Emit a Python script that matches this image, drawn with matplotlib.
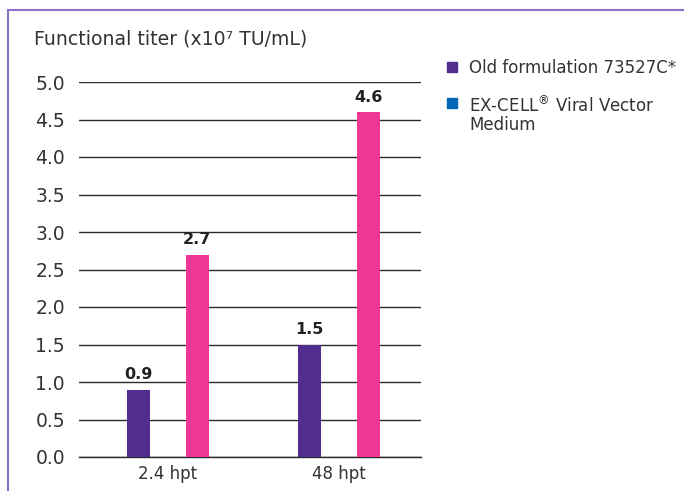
import numpy as np
import matplotlib.pyplot as plt
from matplotlib.patches import Rectangle
from matplotlib.lines import Line2D

plt.rcParams["font.family"] = ["DejaVu Sans"]

# Data
categories = ["2.4 hpt", "48 hpt"]
old_formulation = [0.9, 1.5]
excell_medium = [2.7, 4.6]
yticks = [0.0, 0.5, 1.0, 1.5, 2.0, 2.5, 3.0, 3.5, 4.0, 4.5, 5.0]
legend_labels = ["Old formulation 73527C*", "EX-CELL$^{®}$ Viral Vector\nMedium"]

purple = "#512D8F"
pink = "#EE3695"
legend_blue = "#0068B4"
border = "#8C70C4"
text_color = "#333333"

W, H = 684, 491
fig = plt.figure(figsize=(W / 100, H / 100), dpi=100)

# axes placed in pixel terms
left, right, bottom, top = 79, 421, 457, 82
ax = fig.add_axes([left / W, 1 - bottom / H, (right - left) / W, (bottom - top) / H])

x = np.arange(len(categories))
width = 0.135
offset = 0.172
bars1 = ax.bar(x - offset, old_formulation, width, color=purple, zorder=3)
bars2 = ax.bar(x + offset, excell_medium, width, color=pink, zorder=3)

for bars in (bars1, bars2):
    for b in bars:
        ax.text(b.get_x() + b.get_width() / 2, b.get_height() + 0.1,
                f"{b.get_height():.1f}", ha="center", va="bottom",
                fontsize=11.5, fontweight="bold", color="#222222")

ax.set_xlim(-0.52, 1.48)
ax.set_ylim(0, 5.0)
ax.set_yticks(yticks)
ax.set_yticklabels([f"{v:.1f}" for v in yticks])
ax.set_xticks(x)
ax.set_xticklabels(categories)
ax.tick_params(axis="both", length=0, labelsize=13.5, labelcolor=text_color)
ax.tick_params(axis="y", pad=10)
ax.tick_params(axis="x", pad=6, labelsize=12)
ax.yaxis.grid(True, color="#2a2a2a", linewidth=1.0, zorder=0)
ax.set_axisbelow(True)
for s in ax.spines.values():
    s.set_visible(False)
ax.spines["bottom"].set_visible(True)
ax.spines["bottom"].set_color("#2a2a2a")
ax.spines["bottom"].set_linewidth(1.0)

# title
fig.text(34 / W, 1 - 39 / H, "Functional titer (x10\u2077 TU/mL)",
         fontsize=13.6, color=text_color, va="center", ha="left")

# legend drawn by hand
leg_colors = [purple, legend_blue]
leg_y = [67, 103]
for lab, c, yy in zip(legend_labels, leg_colors, leg_y):
    fig.patches.append(Rectangle((447 / W, 1 - (yy + 5) / H), 10 / W, 10 / H,
                                 transform=fig.transFigure, color=c))
    fig.text(469 / W, 1 - (yy - 8) / H, lab, fontsize=12, color=text_color,
             va="top", ha="left", linespacing=1.0)

# border
fig.add_artist(Line2D([7.5 / W, 1], [1 - 9.5 / H, 1 - 9.5 / H],
                      transform=fig.transFigure, color=border, linewidth=1.5))
fig.add_artist(Line2D([7.5 / W, 7.5 / W], [0, 1 - 9.5 / H],
                      transform=fig.transFigure, color=border, linewidth=1.5))

fig.savefig("out.png", dpi=100)
